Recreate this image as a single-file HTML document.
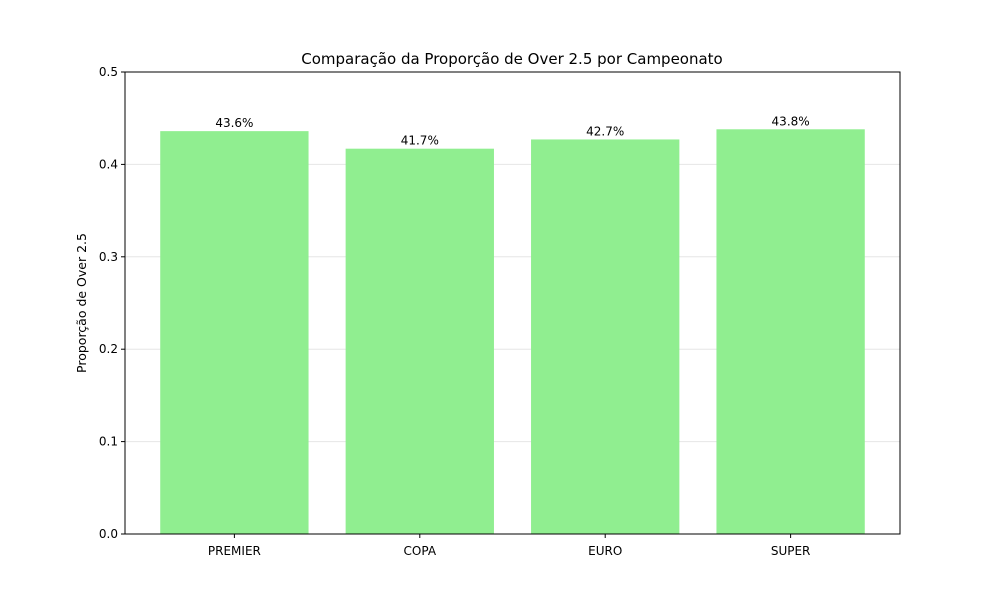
<!DOCTYPE html>
<html><head><meta charset="utf-8"><style>
body{margin:0;background:#fff}
text{font-family:"DejaVu Sans","Liberation Sans",sans-serif;fill:#000}
</style></head><body>
<svg id="chart" width="1000" height="600" xmlns="http://www.w3.org/2000/svg">
<rect width="1000" height="600" fill="#fff"/>
<text x="512" y="64" font-size="15" text-anchor="middle">Comparação da Proporção de Over 2.5 por Campeonato</text>
<text transform="translate(86,303) rotate(-90)" font-size="12.5" text-anchor="middle">Proporção de Over 2.5</text>
<g id="grid"></g><g id="bars"></g><g id="ticks"></g>
<rect x="125" y="72" width="775" height="462" fill="none" stroke="#000" stroke-width="1"/>
</svg>
<script>
const categories=["PREMIER","COPA","EURO","SUPER"];
const values=[0.436,0.417,0.427,0.438];
const valueLabels=["43.6%","41.7%","42.7%","43.8%"];
const yTicks=[0,0.1,0.2,0.3,0.4,0.5];
const yTickLabels=["0.0","0.1","0.2","0.3","0.4","0.5"];
const NS="http://www.w3.org/2000/svg";
const L=125,R=900,T=72,B=534;
const xMin=-0.59,xMax=categories.length-1+0.59;
const xs=i=>L+(i-xMin)/(xMax-xMin)*(R-L);
const ys=v=>B-(v-0)/(0.5-0)*(B-T);
const bw=0.8*(R-L)/(xMax-xMin);
function mk(tag,attrs,parent){const e=document.createElementNS(NS,tag);for(const k in attrs)e.setAttribute(k,attrs[k]);document.getElementById(parent).appendChild(e);return e;}
yTicks.forEach((t,i)=>{
  const y=ys(t);
  if(t>0&&t<0.5){const g=mk('line',{x1:L,x2:R,y1:y,y2:y,stroke:'#e6e6e6','stroke-width':1},'grid');
  
  }
  const tk=mk('line',{x1:L-4,x2:L,y1:y,y2:y,stroke:'#000'},'ticks');
  
  
  const tx=mk('text',{x:L-7,y:y+4,'font-size':12,'text-anchor':'end'},'ticks');
  tx.textContent=yTickLabels[i];
  
  
});
categories.forEach((c,i)=>{
  const cx=xs(i);
  const b=mk('rect',{x:cx-bw/2,y:ys(values[i]),width:bw,height:B-ys(values[i]),fill:'#90ee90'},'bars');
  
  
  const v=mk('text',{x:cx,y:ys(values[i])-4,'font-size':12,'text-anchor':'middle'},'bars');
  v.textContent=valueLabels[i];
  
  
  const tk=mk('line',{x1:cx,x2:cx,y1:B,y2:B+4,stroke:'#000'},'ticks');
  
  
  const tx=mk('text',{x:cx,y:B+21,'font-size':12,'text-anchor':'middle'},'ticks');
  tx.textContent=c;
  
  
});
</script>
</body></html>
